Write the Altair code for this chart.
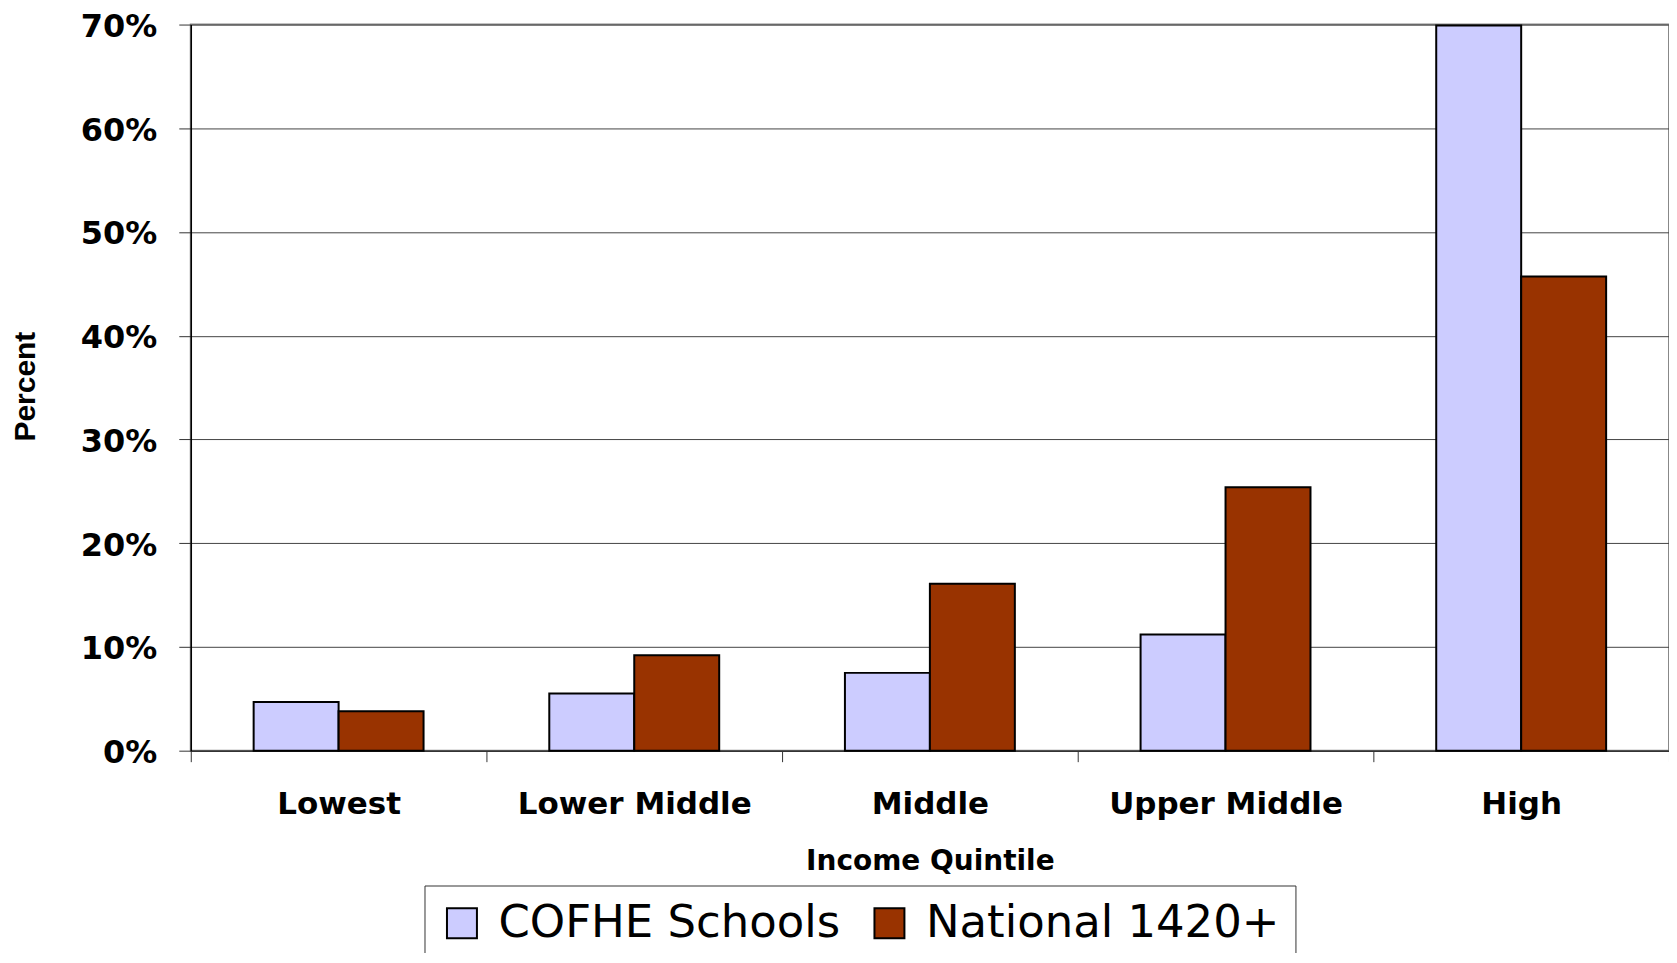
import altair as alt
import pandas as pd

categories = ["Lowest", "Lower Middle", "Middle", "Upper Middle", "High"]
series = ["COFHE Schools", "National 1420+"]
cofhe = [4.7, 5.5, 7.5, 11.2, 69.9]
national = [3.8, 9.2, 16.1, 25.4, 45.7]
colors = ["#CCCCFF", "#993300"]

rows = []
for c, a, b in zip(categories, cofhe, national):
    rows.append({"Quintile": c, "Group": series[0], "Percent": a})
    rows.append({"Quintile": c, "Group": series[1], "Percent": b})
df = pd.DataFrame(rows)

bars = alt.Chart(df).mark_bar(stroke="black", strokeWidth=2).encode(
    x=alt.X("Quintile:N", sort=categories,
            scale=alt.Scale(paddingInner=0, paddingOuter=0),
            axis=alt.Axis(title="Income Quintile", labelAngle=0, tickBand="extent",
                          labelFont="DejaVu Sans", labelFontSize=31, labelFontWeight="bold",
                          labelColor="black", labelPadding=28, tickSize=11, tickColor="#333",
                          domainColor="#333", domainWidth=1.5, labelLimit=0,
                          titleFont="DejaVu Sans", titleFontSize=28, titleFontWeight="bold",
                          titleColor="black", titlePadding=28)),
    xOffset=alt.XOffset("Group:N", sort=series,
                        scale=alt.Scale(domain=series, paddingInner=0, paddingOuter=0.74)),
    y=alt.Y("Percent:Q", scale=alt.Scale(domain=[0, 70], nice=False),
            axis=alt.Axis(title="Percent", values=[0, 10, 20, 30, 40, 50, 60, 70],
                          labelExpr="datum.value + '%'",
                          labelFont="DejaVu Sans", labelFontSize=32, labelFontWeight="bold",
                          labelColor="black", labelPadding=22, labelOffset=2,
                          tickSize=12, tickColor="#333",
                          domainColor="black", domainWidth=1.5,
                          gridColor="#444", gridWidth=1,
                          titleFont="Liberation Sans", titleFontSize=30, titleFontWeight="bold",
                          titleColor="black", titleX=-150, titleY=362, titleAlign="center",
                          titleBaseline="bottom")),
    color=alt.Color("Group:N", sort=series,
                    scale=alt.Scale(domain=series, range=colors),
                    legend=alt.Legend(title=None, orient="none", direction="horizontal",
                                      legendX=234, legendY=862,
                                      symbolType="square", symbolSize=900,
                                      symbolStrokeColor="black", symbolStrokeWidth=2,
                                      symbolOpacity=1,
                                      labelFont="DejaVu Sans", labelFontSize=45,
                                      labelColor="black", labelLimit=0, labelOffset=14,
                                      columnPadding=26, padding=15,
                                      strokeColor="#333", fillColor="white")),
).properties(width=1480, height=727)

chart = bars.configure_view(stroke="#888", strokeWidth=2).properties(
    autosize=alt.AutoSizeParams(type="none"),
    padding={"left": 183, "top": 16, "right": 0, "bottom": 202},
)

chart.save("out.html", embed_options={"renderer": "svg", "actions": False})
